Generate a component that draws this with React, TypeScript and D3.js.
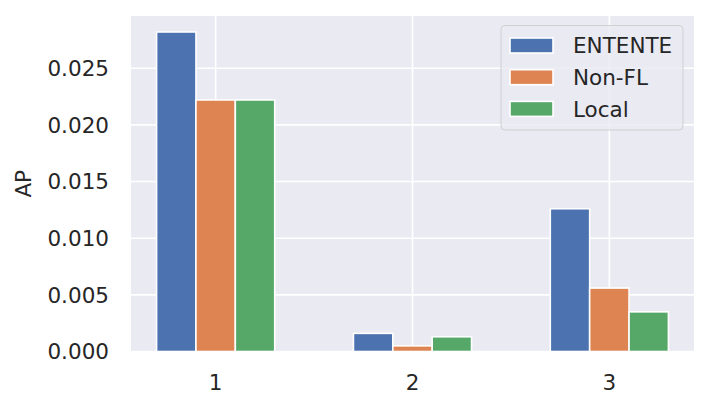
import React from "react";
import * as d3 from "d3";

const categories = ["1", "2", "3"];
const seriesNames = ["ENTENTE", "Non-FL", "Local"];
const entente = [0.0282, 0.0016, 0.0126];
const nonFL = [0.0222, 0.0005, 0.0056];
const local = [0.0222, 0.0013, 0.0035];
const yTicks = [0.0, 0.005, 0.01, 0.015, 0.02, 0.025];
const colors = ["#4c72b0", "#dd8452", "#55a868"];

const W = 710;
const H = 408;
const M = { left: 131, right: 694, top: 16, bottom: 351.5 };
const FONT = "'DejaVu Sans', sans-serif";
const FS = 21.5;
const TXT = "#262626";

export default function App() {
  const series = [entente, nonFL, local];
  const barW = 0.2;
  const offsets = [-0.2, 0, 0.2];
  const maxV = d3.max(series.flat()) as number;
  const x = d3.scaleLinear().domain([-0.43, 2.43]).range([M.left, M.right]);
  const y = d3.scaleLinear().domain([0, maxV * 1.05]).range([M.bottom, M.top]);

  const legX = 501;
  const legY = 25.5;
  const legW = 182;
  const legH = 104.5;
  const rowH = 31.7;

  return (
    <div style={{ margin: -8 }}>
      <svg width={W} height={H} style={{ display: "block", background: "#fff" }}>
        <rect x={M.left} y={M.top} width={M.right - M.left} height={M.bottom - M.top} fill="#eaeaf2" />
        {yTicks.map((t) => (
          <line key={"gy" + t} x1={M.left} x2={M.right} y1={y(t)} y2={y(t)} stroke="#fff" strokeWidth={1.6} />
        ))}
        {categories.map((c, i) => (
          <line key={"gx" + c} x1={x(i)} x2={x(i)} y1={M.top} y2={M.bottom} stroke="#fff" strokeWidth={1.6} />
        ))}
        {series.map((vals, s) =>
          vals.map((v, i) => {
            const x0 = x(i + offsets[s] - barW / 2);
            const x1 = x(i + offsets[s] + barW / 2);
            return (
              <rect
                key={s + "-" + i}
                x={x0}
                y={y(v)}
                width={x1 - x0}
                height={y(0) - y(v)}
                fill={colors[s]}
                stroke="#fff"
                strokeWidth={1.6}
              />
            );
          })
        )}
        {yTicks.map((t) => (
          <text
            key={"ty" + t}
            x={M.left - 22}
            y={y(t)}
            dy="0.36em"
            textAnchor="end"
            fontFamily={FONT}
            fontSize={FS}
            fill={TXT}
          >
            {d3.format(".3f")(t)}
          </text>
        ))}
        {categories.map((c, i) => (
          <text
            key={"tx" + c}
            x={x(i)}
            y={M.bottom + 38}
            textAnchor="middle"
            fontFamily={FONT}
            fontSize={FS}
            fill={TXT}
          >
            {c}
          </text>
        ))}
        <text
          transform={`translate(${31},${(M.top + M.bottom) / 2}) rotate(-90)`}
          textAnchor="middle"
          fontFamily={FONT}
          fontSize={FS}
          fill={TXT}
        >
          AP
        </text>
        <rect
          x={legX}
          y={legY}
          width={legW}
          height={legH}
          rx={4}
          fill="rgba(234,234,242,0.8)"
          stroke="#d0d0d0"
          strokeWidth={1}
        />
        {seriesNames.map((n, s) => {
          const cy = legY + 20 + s * rowH;
          return (
            <g key={"leg" + n}>
              <rect x={510} y={cy - 7.5} width={43} height={15} fill={colors[s]} stroke="#fff" strokeWidth={1.6} />
              <text x={573} y={cy} dy="0.36em" fontFamily={FONT} fontSize={FS} fill={TXT}>
                {n}
              </text>
            </g>
          );
        })}
      </svg>
    </div>
  );
}
